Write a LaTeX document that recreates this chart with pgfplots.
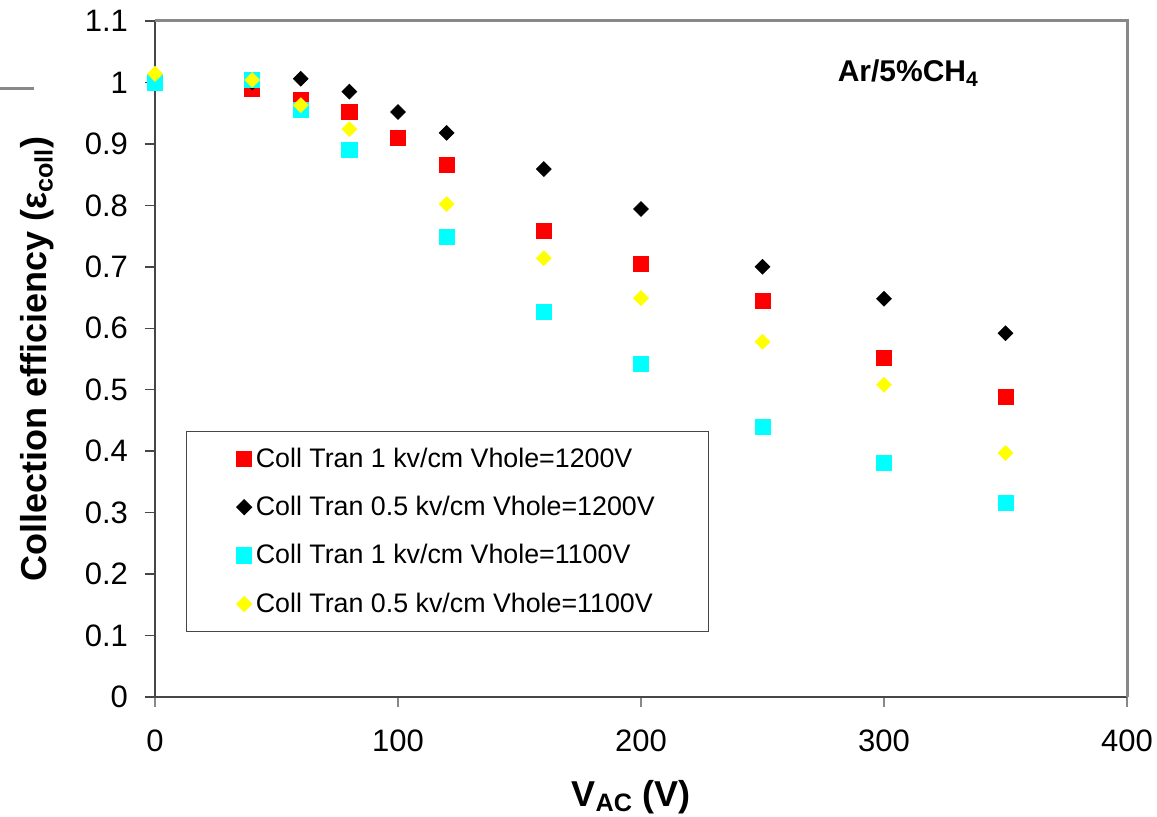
\documentclass[border=0pt]{standalone}
\usepackage{fontspec}
\setmainfont{Liberation Sans}
\usepackage{pgfplots}
\pgfplotsset{compat=1.18}
\definecolor{framegray}{RGB}{136,136,136}
\definecolor{axdark}{RGB}{70,70,70}
\definecolor{mred}{RGB}{255,0,0}
\definecolor{mcyan}{RGB}{0,255,255}
\definecolor{myellow}{RGB}{255,255,0}
\begin{document}
\begin{tikzpicture}
\begin{axis}[
  at={(0,0)}, anchor=origin,
  scale only axis,
  width=486pt, height=338pt,
  xmin=0, xmax=400, ymin=0, ymax=1.1,
  axis x line*=bottom, axis y line*=left,
  axis line style={axdark, line width=0.9pt, -},
  xtick={0,100,200,300,400},
  ytick={0,0.1,0.2,0.3,0.4,0.5,0.6,0.7,0.8,0.9,1,1.1},
  yticklabels={0,0.1,0.2,0.3,0.4,0.5,0.6,0.7,0.8,0.9,1,1.1},
  tick align=outside,
  major tick length=5pt,
  x tick style={framegray, line width=1pt},
  y tick style={axdark, line width=0.7pt},
  /pgf/number format/assume math mode=true,
  tick label style={font=\fontsize{15.5}{18}\selectfont},
  xticklabel style={yshift=-8pt},
  yticklabel style={xshift=-5pt},
  xlabel={\textbf{V\textsubscript{AC} (V)}},
  ylabel={\textbf{Collection efficiency (ε\textsubscript{coll})}},
  label style={font=\fontsize{18}{21}\selectfont},
  xlabel style={at={(axis description cs:0.49,0)}, anchor=center, yshift=-50pt},
  ylabel style={at={(axis description cs:0,0.5)}, anchor=center, yshift=59pt},
  legend style={at={(axis description cs:0.0319,0.3935)}, anchor=north west,
    draw=axdark, line width=0.6pt, font=\fontsize{13.4}{15.5}\selectfont,
    inner xsep=25pt, inner ysep=6pt, row sep=9pt, legend cell align=left},
  legend image code/.code={\draw[#1] plot coordinates {(0.25em,0)};},
  clip=false,
  after end axis/.code={
    \draw[framegray, line width=1.5pt] (rel axis cs:0,1) -- (rel axis cs:1,1) -- (rel axis cs:1,0);
  },
]
\addplot[only marks, mark=square*, mark size=3.8pt, color=mred] coordinates {
 (0,1.0) (40,0.989) (60,0.971) (80,0.952) (100,0.910) (120,0.866) (160,0.758) (200,0.705) (250,0.644) (300,0.552) (350,0.488)};
\addlegendentry{Coll Tran 1 kv/cm Vhole=1200V}
\addplot[only marks, mark=square*, mark size=2.6pt, mark options={rotate=45}, color=black] coordinates {
 (0,1.0) (40,1.0) (60,1.006) (80,0.985) (100,0.952) (120,0.918) (160,0.859) (200,0.794) (250,0.700) (300,0.648) (350,0.592)};
\addlegendentry{Coll Tran 0.5 kv/cm Vhole=1200V}
\addplot[only marks, mark=square*, mark size=3.8pt, color=mcyan] coordinates {
 (0,1.0) (40,1.004) (60,0.955) (80,0.890) (120,0.749) (160,0.627) (200,0.542) (250,0.439) (300,0.381) (350,0.316)};
\addlegendentry{Coll Tran 1 kv/cm Vhole=1100V}
\addplot[only marks, mark=square*, mark size=2.6pt, mark options={rotate=45}, color=myellow] coordinates {
 (0,1.014) (40,1.004) (60,0.963) (80,0.924) (120,0.802) (160,0.714) (200,0.649) (250,0.578) (300,0.508) (350,0.397)};
\addlegendentry{Coll Tran 0.5 kv/cm Vhole=1100V}
\node[font=\bfseries\fontsize{15}{18}\selectfont, anchor=center] at (axis cs:310,1.015) {Ar/5\%CH\textsubscript{4}};
\end{axis}
\draw[framegray, line width=1.5pt] (-77.5pt,304pt) -- (-60.5pt,304pt);
\pgfresetboundingbox
\useasboundingbox (-77.5pt,-60pt) rectangle (501pt,348.5pt);
\end{tikzpicture}
\end{document}
